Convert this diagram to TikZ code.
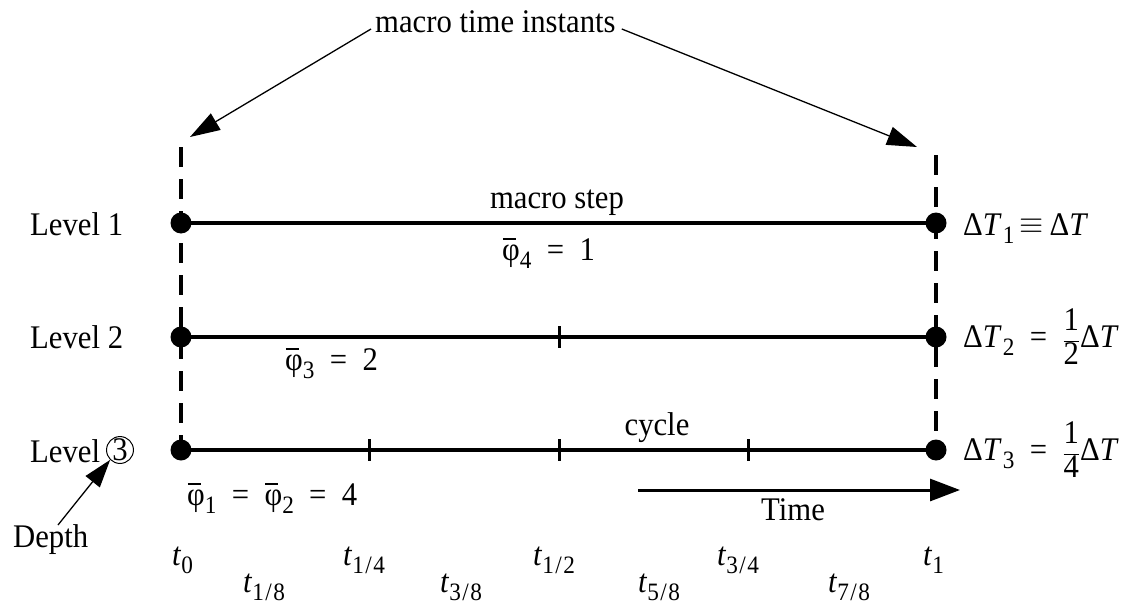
\documentclass[tikz,border=0pt]{standalone}
\usepackage{fontspec}
\setmainfont{Liberation Serif}[FakeStretch=0.93]
\usetikzlibrary{arrows.meta}
\newcommand{\mysub}[1]{\raisebox{-0.26em}{\fontsize{25}{25}\selectfont #1}}
\newcommand{\tl}[1]{\textit{t}\mysub{#1}}
\newcommand{\tf}[2]{\textit{t}\mysub{#1\kern1.5pt/\kern1.5pt#2}}
\newcommand{\pb}[1]{\rlap{\kern0.02em\raisebox{0.62em}{\rule{0.4em}{1.6pt}}}φ\mysub{#1}}
\newcommand{\DT}[1]{Δ\textit{T}\kern0.03em\mysub{#1}}
\newcommand{\fr}[1]{$\displaystyle\frac{\mbox{1}}{\mbox{#1}}$}
\tikzset{
  every node/.style={font=\fontsize{33}{38}\selectfont, inner sep=0pt},
  lvl/.style={line width=3.5pt},
  tick/.style={line width=3pt},
  dsh/.style={line width=3.5pt, dash pattern=on 20pt off 12pt},
  dot/.style={circle, fill=black, minimum size=21pt},
  thin/.style={line width=1.3pt, -{Triangle[length=30pt,width=19pt]}},
  timearr/.style={line width=3pt, -{Triangle[length=30pt,width=22pt]}},
}
\begin{document}
\begin{tikzpicture}[x=1pt,y=-1pt]
\useasboundingbox (0,0) rectangle (1137,607);
% coordinates of level ends
\coordinate (l1a) at (181,223); \coordinate (l1b) at (936,223);
\coordinate (l2a) at (181,337); \coordinate (l2b) at (936,337);
\coordinate (l3a) at (181,450); \coordinate (l3b) at (936,450);
\coordinate (topL) at (181,147); \coordinate (topR) at (936,155);
% dashed macro instants
\draw[dsh] (topL) -- (l3a);
\draw[dsh] (topR) -- (l3b);
% level lines
\draw[lvl] (l1a) -- (l1b);
\draw[lvl] (l2a) -- (l2b);
\draw[lvl] (l3a) -- (l3b);
% ticks
\draw[tick] (559,326) -- (559,348);
\draw[tick] (369,439) -- (369,461);
\draw[tick] (559,439) -- (559,461);
\draw[tick] (748,439) -- (748,461);
% dots
\foreach \p in {l1a,l1b,l2a,l2b,l3a,l3b} \node[dot] at (\p) {};
% top label and arrows
\node[anchor=base west] (mti) at (375,33) {macro time instants};
\coordinate (tipL) at (190,137);
\coordinate (tipR) at (917,147);
\draw[thin] ([xshift=-4pt,yshift=4pt]mti.base west) -- (tipL);
\draw[thin] ([xshift=6pt,yshift=4pt]mti.base east) -- (tipR);
% level labels
\node[anchor=base west] (lv1) at (30,235) {Level 1};
\node[anchor=base west] (lv2) at (30,348) {Level 2};
\node[anchor=base west] (lv3) at (30,462) {Level};
\node[circle, draw, line width=1pt, minimum size=26pt, inner sep=0pt] (c3) at (120,450) {3};
\node[anchor=base west] (depth) at (13,547) {Depth};
\draw[line width=1.3pt, -{Triangle[length=28pt,width=18pt]}] (58,525) -- (c3.south west);
% inline labels
\node[anchor=base] (ms) at (557,208) {macro step};
\node[anchor=base west] (p4) at (502,260) {\pb{4} \ = \ 1};
\node[anchor=base west] (p3) at (285,370) {\pb{3} \ = \ 2};
\node[anchor=base west] (p12) at (187,505) {\pb{1} \ = \ \pb{2} \ = \ 4};
\node[anchor=base] (cyc) at (657,435) {cycle};
% time arrow
\coordinate (ta) at (638,490); \coordinate (tb) at (960,490);
\draw[timearr] (ta) -- (tb);
\node[anchor=base] (time) at (793,520) {Time};
% right labels
\node[anchor=base west] (d1) at (963,235) {\DT{1}\,\raisebox{0.05em}{\scalebox{1.25}{$\equiv$}}\,Δ\textit{T}};
\node[anchor=base west] (d2) at (963,347) {\DT{2} \ = \ \fr{2}Δ\textit{T}};
\node[anchor=base west] (d3) at (963,460) {\DT{3} \ = \ \fr{4}Δ\textit{T}};
% time instants
\node[anchor=base west] (t0) at (172,565) {\tl{0}};
\node[anchor=base west] (t18) at (243,592) {\tf{1}{8}};
\node[anchor=base west] (t14) at (343,565) {\tf{1}{4}};
\node[anchor=base west] (t38) at (440,592) {\tf{3}{8}};
\node[anchor=base west] (t12) at (533,565) {\tf{1}{2}};
\node[anchor=base west] (t58) at (638,592) {\tf{5}{8}};
\node[anchor=base west] (t34) at (717,565) {\tf{3}{4}};
\node[anchor=base west] (t78) at (828,592) {\tf{7}{8}};
\node[anchor=base west] (t1) at (923,565) {\tl{1}};
\end{tikzpicture}
\end{document}
